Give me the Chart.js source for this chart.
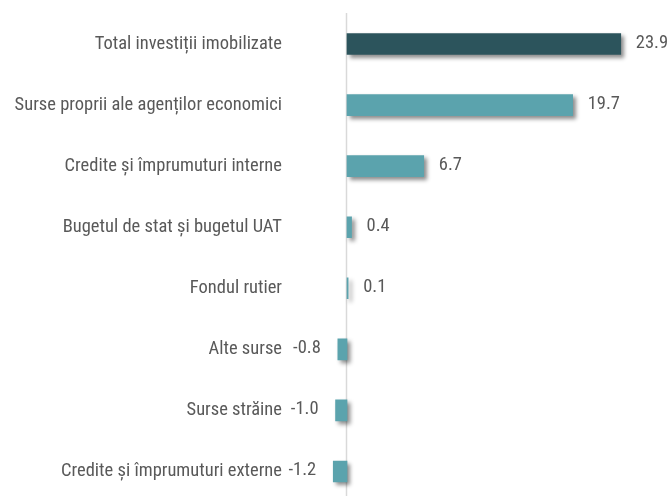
<!DOCTYPE html>
<html>
<head>
<meta charset="utf-8">
<script src="https://cdn.jsdelivr.net/npm/chart.js@4"></script>
<style>
  html, body { margin: 0; padding: 0; background: #fff; overflow: hidden; }
</style>
</head>
<body>
<canvas id="chart" width="672" height="502"></canvas>
<script>
// Categories and values
const categories = [
    "Total investiții imobilizate",
    "Surse proprii ale agenților economici",
    "Credite și împrumuturi interne",
    "Bugetul de stat și bugetul UAT",
    "Fondul rutier",
    "Alte surse",
    "Surse străine",
    "Credite și împrumuturi externe"
];
const values = [23.9, 19.7, 6.7, 0.4, 0.1, -0.8, -1.0, -1.2];

const fontFamily = "'Roboto Condensed', 'Liberation Sans', sans-serif";
const fontSize = 18.5;
const textColor = "#595959";

// zero line, bar shadows and value labels
const decorPlugin = {
    id: "decor",
    beforeDatasetsDraw(chart) {
        const ctx = chart.ctx;
        const x0 = chart.scales.x.getPixelForValue(0);
        ctx.save();
        ctx.strokeStyle = "#d9d9d9";
        ctx.lineWidth = 1.5;
        ctx.beginPath();
        ctx.moveTo(x0 - 0.5, 13);
        ctx.lineTo(x0 - 0.5, chart.height);
        ctx.stroke();
        ctx.restore();

        ctx.save();
        ctx.shadowColor = "rgba(0, 0, 0, 0.45)";
        ctx.shadowBlur = 4;
        ctx.shadowOffsetX = 3;
        ctx.shadowOffsetY = 3;
    },
    afterDatasetsDraw(chart) {
        const ctx = chart.ctx;
        ctx.restore();

        const meta = chart.getDatasetMeta(0);
        ctx.save();
        ctx.font = fontSize + "px " + fontFamily;
        ctx.fillStyle = textColor;
        ctx.textBaseline = "middle";
        meta.data.forEach((bar, i) => {
            const v = values[i];
            const text = v.toFixed(1);
            if (v >= 0) {
                let x = bar.x + 15;
                const w = ctx.measureText(text).width;
                if (x + w > chart.width - 2) x = chart.width - 2 - w;
                ctx.textAlign = "left";
                ctx.fillText(text, x, bar.y - 1);
            } else {
                ctx.textAlign = "right";
                ctx.fillText(text, bar.x - 17, bar.y - 1);
            }
        });
        ctx.restore();
    }
};

new Chart(document.getElementById("chart"), {
    type: "bar",
    data: {
        labels: categories,
        datasets: [{
            data: values,
            backgroundColor: (c) => c.dataIndex === 0 ? "#2c545c" : "#5ba3ad",
            borderWidth: 0,
            barThickness: 21
        }]
    },
    options: {
        indexAxis: "y",
        responsive: false,
        animation: false,
        devicePixelRatio: 1,
        layout: { padding: { top: 13.5, right: 10, bottom: 0, left: 0 } },
        plugins: {
            legend: { display: false },
            tooltip: { enabled: false }
        },
        scales: {
            x: {
                display: false,
                min: -5.5,
                max: 27.5
            },
            y: {
                grid: { display: false, drawTicks: false },
                border: { display: false },
                ticks: {
                    padding: 2,
                    color: textColor,
                    font: { family: fontFamily, size: fontSize }
                },
                afterFit(scale) {
                    scale.width = 284;
                    scale.paddingTop = 0;
                    scale.paddingBottom = 0;
                }
            }
        }
    },
    plugins: [decorPlugin]
});
</script>
</body>
</html>
